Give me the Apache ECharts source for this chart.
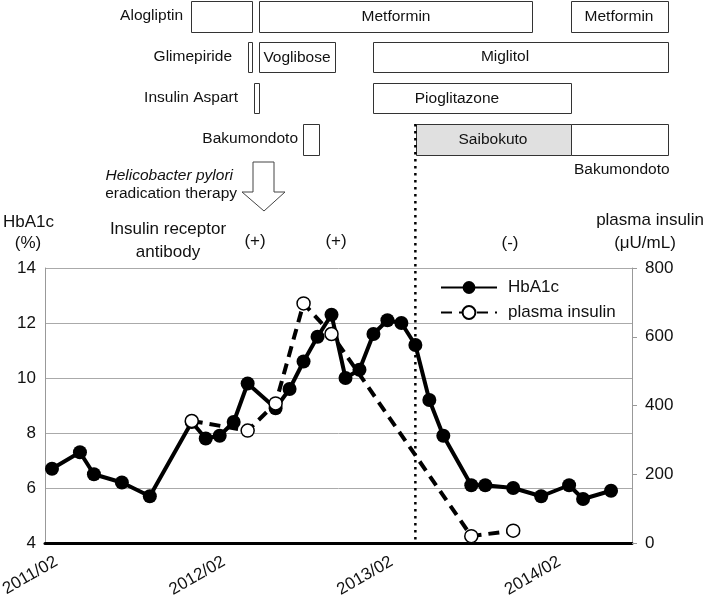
<!DOCTYPE html>
<html><head><meta charset="utf-8">
<script src="https://cdn.jsdelivr.net/npm/echarts@6/dist/echarts.min.js"></script>
<style>html,body{margin:0;padding:0;background:#fff}#c{width:708px;height:596px}</style>
</head><body><div id="c"></div>
<script>
// ---- data ----
const months = [
  '2011/02','2011/03','2011/04','2011/05','2011/06','2011/07','2011/08','2011/09','2011/10','2011/11','2011/12','2012/01',
  '2012/02','2012/03','2012/04','2012/05','2012/06','2012/07','2012/08','2012/09','2012/10','2012/11','2012/12','2013/01',
  '2013/02','2013/03','2013/04','2013/05','2013/06','2013/07','2013/08','2013/09','2013/10','2013/11','2013/12','2014/01',
  '2014/02','2014/03','2014/04','2014/05','2014/06','2014/07'
];
const hbDates = ['2011/02','2011/04','2011/05','2011/07','2011/09','2011/12','2012/01','2012/02','2012/03','2012/04',
  '2012/06','2012/07','2012/08','2012/09','2012/10','2012/11','2012/12','2013/01','2013/02','2013/03','2013/04',
  '2013/05','2013/06','2013/08','2013/09','2013/11','2014/01','2014/03','2014/04','2014/06'];
const hbValues = [6.7,7.3,6.5,6.2,5.7,8.4,7.8,7.9,8.4,9.8,
  8.9,9.6,10.6,11.5,12.3,10.0,10.3,11.6,12.1,12.0,11.2,
  9.2,7.9,6.1,6.1,6.0,5.7,6.1,5.6,5.9];
const insDates = ['2011/12','2012/04','2012/06','2012/08','2012/10','2013/08','2013/11'];
const insValues = [355,327,406,697,608,20,36];
const leftRange = [4, 14, 2];
const rightRange = [0, 800, 200];
const saibokutoStart = '2013/04';

const FONT = 'Liberation Sans, Arial, sans-serif';
const chart = echarts.init(document.getElementById('c'), null, {renderer: 'canvas'});

const graphics = [];
function box(x1, x2, y1, y2, fill) {
  graphics.push({type: 'rect', shape: {x: x1 + 0.5, y: y1 + 0.5, width: x2 - x1, height: y2 - y1},
    style: {fill: fill || '#fff', stroke: '#333', lineWidth: 1}, z: 10});
}
function txt(s, x, y, align, size, opts) {
  graphics.push({type: 'text', x: x, y: y, z: 11,
    style: Object.assign({text: s, fill: '#111', font: (size || 15.5) + 'px ' + FONT, textAlign: align || 'center', textVerticalAlign: 'middle'}, opts || {})});
}
// treatment rows
box(191, 252, 1, 32); box(259, 532, 1, 32); box(571, 668, 1, 32);
txt('Alogliptin', 183, 16, 'right'); txt('Metformin', 396, 17); txt('Metformin', 619, 17);
box(248, 252, 42, 72); box(259, 335, 42, 72); box(373, 668, 42, 72);
txt('Glimepiride', 232, 57, 'right'); txt('Voglibose', 297, 58); txt('Miglitol', 505, 57);
box(254, 259, 83, 113); box(373, 571, 83, 113);
txt('Insulin Aspart', 238, 98, 'right'); txt('Pioglitazone', 457, 99);
box(303, 319, 124, 155); box(416, 571, 124, 155, '#e0e0e0'); box(571, 668, 124, 155);
txt('Bakumondoto', 298, 139, 'right'); txt('Saibokuto', 493, 140);
txt('Bakumondoto', 574, 170, 'left');
// arrow
graphics.push({type: 'polygon', z: 10, shape: {points: [[253,162],[274,162],[274,192],[285,192],[264,211],[242,192],[253,192]]},
  style: {fill: '#fff', stroke: '#444', lineWidth: 1}});
txt('Helicobacter pylori', 233, 176, 'right', 15.5, {font: 'italic 15.5px ' + FONT});
txt('eradication therapy', 237, 194, 'right');
// chart headings
txt('HbA1c', 3, 222, 'left', 17); txt('(%)', 28, 243, 'center', 17);
txt('Insulin receptor', 168, 229, 'center', 17); txt('antibody', 168, 252, 'center', 17);
txt('(+)', 255, 241, 'center', 17); txt('(+)', 336, 241, 'center', 17); txt('(-)', 510, 243, 'center', 17);
txt('plasma insulin', 650, 220, 'center', 17); txt('(\u03bcU/mL)', 645, 243, 'center', 17);

const option = {
  animation: false,
  backgroundColor: '#fff',
  textStyle: {fontFamily: FONT},
  grid: {left: 45, right: 76, top: 268, bottom: 53, containLabel: false, outerBoundsMode: 'none'},
  legend: {
    orient: 'vertical', left: 435, top: 274, itemWidth: 56, itemHeight: 16, itemGap: 8,
    textStyle: {fontSize: 17, color: '#111', fontFamily: FONT, padding: [0, 0, 0, 6]},
    data: ['HbA1c', 'plasma insulin']
  },
  xAxis: {
    type: 'category', data: months, boundaryGap: true,
    axisLine: {lineStyle: {color: '#000', width: 3}},
    axisTick: {show: false},
    axisLabel: {interval: 11, rotate: 30, fontSize: 17, color: '#111', margin: 10, verticalAlign: 'top', fontFamily: FONT}
  },
  yAxis: [{
    type: 'value', min: leftRange[0], max: leftRange[1], interval: leftRange[2],
    axisLine: {show: true, lineStyle: {color: '#999', width: 1}},
    axisTick: {show: false},
    splitLine: {lineStyle: {color: '#aaa', width: 1}},
    axisLabel: {fontSize: 17, color: '#111', margin: 9, fontFamily: FONT}
  }, {
    type: 'value', min: rightRange[0], max: rightRange[1], interval: rightRange[2], position: 'right',
    axisLine: {show: true, lineStyle: {color: '#999', width: 1}},
    axisTick: {show: true, length: 5, lineStyle: {color: '#999'}},
    splitLine: {show: false},
    axisLabel: {fontSize: 17, color: '#111', margin: 13, fontFamily: FONT}
  }],
  series: [{
    name: 'HbA1c', type: 'line', yAxisIndex: 0, z: 3, showAllSymbol: true,
    data: hbDates.map((d, i) => [d, hbValues[i]]),
    symbol: 'circle', symbolSize: 14,
    lineStyle: {color: '#000', width: 4},
    itemStyle: {color: '#000', borderColor: '#000', borderWidth: 0}
  }, {
    name: 'plasma insulin', type: 'line', yAxisIndex: 1, z: 4, showAllSymbol: true,
    data: insDates.map((d, i) => [d, insValues[i]]),
    symbol: 'circle', symbolSize: 13,
    lineStyle: {color: '#000', width: 4, type: [11, 7]},
    itemStyle: {color: '#fff', borderColor: '#000', borderWidth: 1.5}
  }],
  graphic: graphics
};
chart.setOption(option);
// dotted line at start of Saibokuto, tied to the axis
const px = chart.convertToPixel({xAxisIndex: 0}, saibokutoStart);
const yBottom = chart.convertToPixel({yAxisIndex: 0}, leftRange[0]);
graphics.push({type: 'line', z: 12, shape: {x1: px, y1: 124, x2: px, y2: yBottom},
  style: {stroke: '#000', lineWidth: 2.5, lineDash: [2.5, 4.5]}});
chart.setOption({graphic: graphics});
</script></body></html>
